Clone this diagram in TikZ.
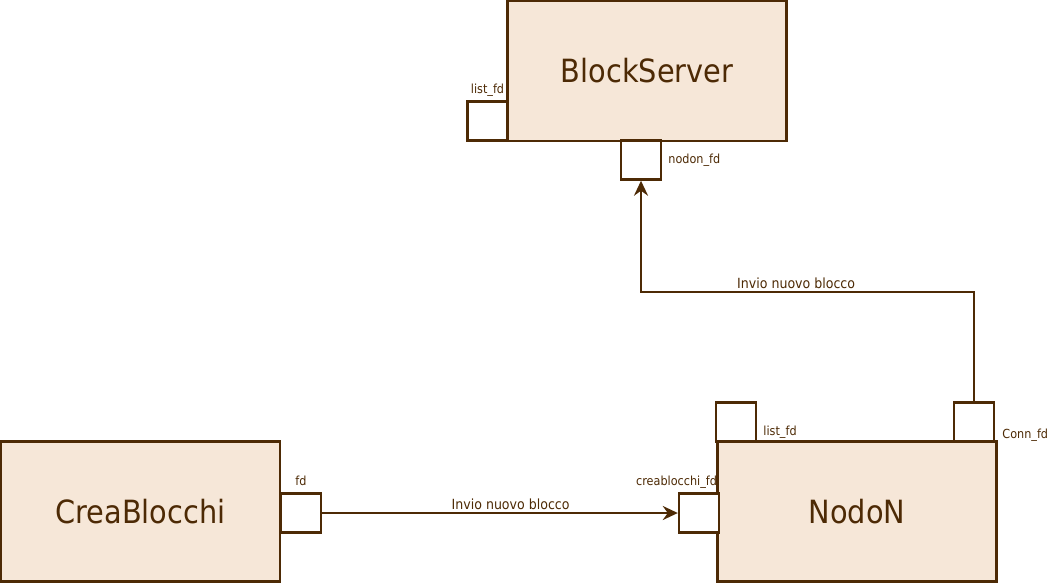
\documentclass[tikz,border=0pt]{standalone}
\usepackage{fontspec}
\setmainfont{DejaVu Sans Condensed}
\usetikzlibrary{positioning,arrows.meta}
\definecolor{brd}{RGB}{77,42,5}
\definecolor{bge}{RGB}{246,231,216}
\begin{document}
\begin{tikzpicture}[x=1pt,y=-1pt,
    block/.style={draw=brd, fill=bge, line width=2.4pt, text=brd, font=\fontsize{32}{38}\selectfont, minimum width=279pt, minimum height=140pt, inner sep=0pt},
    port/.style={draw=brd, fill=white, line width=2.4pt, minimum width=40pt, minimum height=39pt, inner sep=0pt},
    lab/.style={text=brd, font=\fontsize{12.5}{14}\selectfont, inner sep=1pt},
    arrlab/.style={text=brd, font=\fontsize{14}{16}\selectfont, inner sep=2pt},
    conn/.style={draw=brd, line width=2.7pt, -{Stealth[length=15pt,width=14pt,inset=5pt]}}]
    \useasboundingbox (0,0) rectangle (1048,582);

    % blocchi
    \node[block] (bs) at (647,71) {BlockServer};
    \node[block] (cb) at (140.5,511.5) {CreaBlocchi};
    \node[block] (nn) at (857,511.5) {NodoN};

    % porte
    \node[port] (bslist) at (487.5,121) {};
    \node[port] (bsnodon) at (641,160) {};
    \node[port] (fd) at (301,513) {};
    \node[port] (nncrea) at (699,513) {};
    \node[port] (nnlist) at (736,422) {};
    \node[port] (nnconn) at (974,422) {};

    \node[lab, above=3pt of bslist] (lbslist) {list\_fd};
    \node[lab, right=5pt of bsnodon] (lbsnodon) {nodon\_fd};
    \node[lab, above=5pt of fd] (lfd) {fd};
    \node[lab, anchor=south east] (lnncrea) at ([xshift=-2pt,yshift=3pt]nncrea.north east) {creablocchi\_fd};
    \node[lab, anchor=south west] (lnnlist) at ([xshift=5pt,yshift=3pt]nnlist.south east) {list\_fd};
    \node[lab, anchor=south west] (lnnconn) at ([xshift=6pt]nnconn.south east) {Conn\_fd};

    % connessioni
    \draw[conn] (fd.east) -- node[arrlab, pos=0.53, above] {Invio nuovo blocco} (nncrea.west);
    \coordinate (turn) at (974,292);
    \draw[conn] (nnconn.north) -- (turn) -| node[arrlab, pos=0.267, above] {Invio nuovo blocco} (bsnodon.south);

\end{tikzpicture}
\end{document}
